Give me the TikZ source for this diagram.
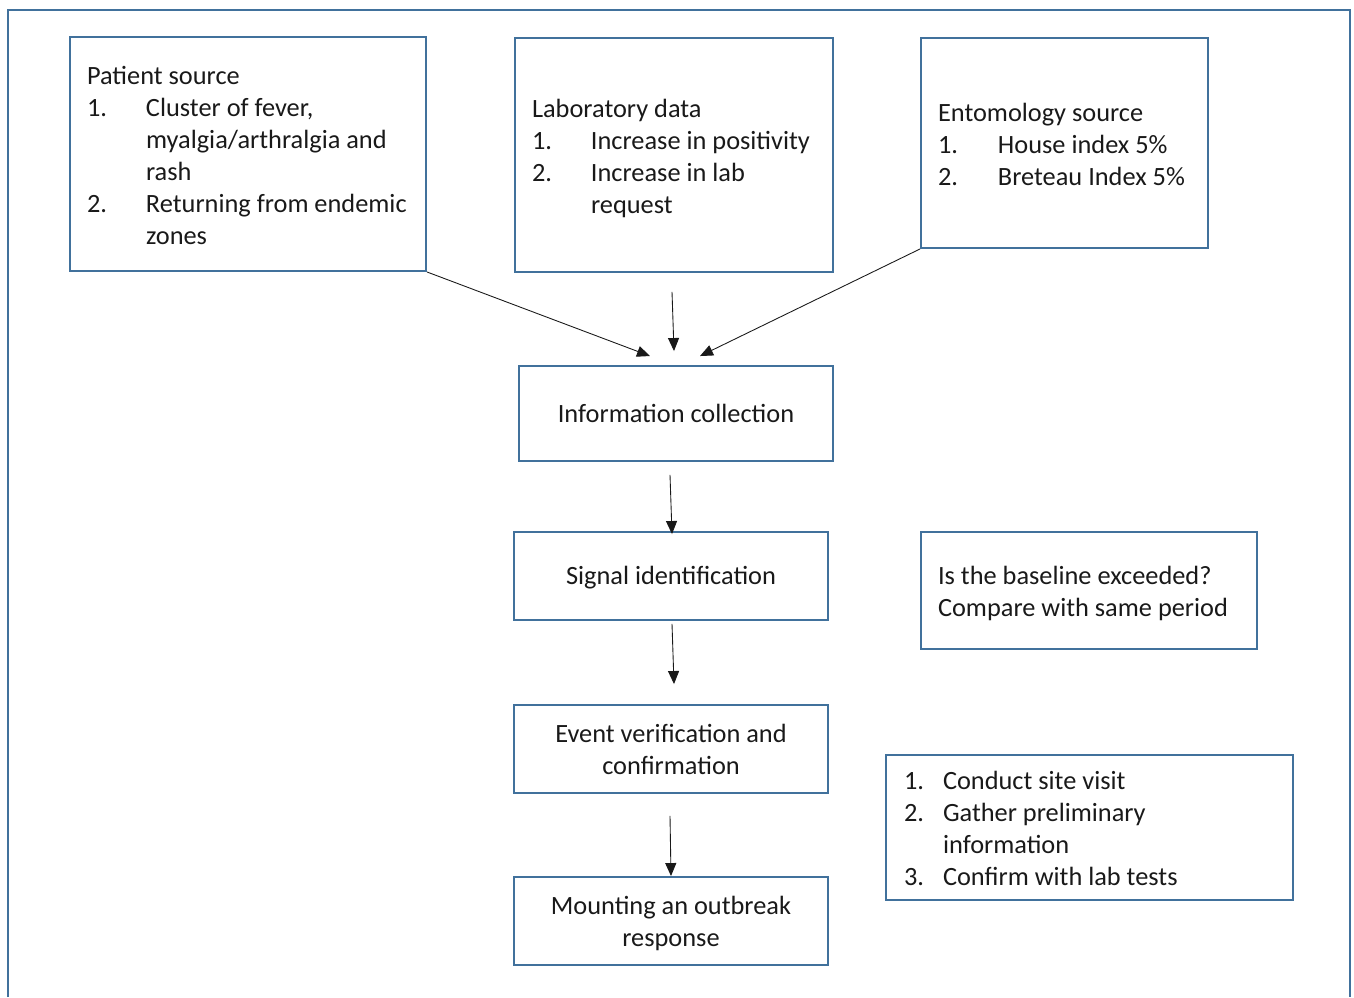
\documentclass[tikz,border=0pt]{standalone}
\usepackage{fontspec}
\setmainfont{Carlito}
\usepackage{array}
\usetikzlibrary{arrows.meta,positioning,calc}
\definecolor{boxblue}{RGB}{65,113,156}
\definecolor{ink}{RGB}{25,25,25}
\tikzstyle{arrow}=[draw,-{Triangle[length=0.26cm,width=0.22cm]},line width=0.5pt,ink]
\tikzstyle{tbox}=[rectangle,draw=boxblue,line width=1.1pt,inner sep=0pt,align=center,text=ink,font=\fontsize{15}{18.2}\selectfont]
\tikzstyle{lbox}=[rectangle,draw=boxblue,line width=1.1pt,inner sep=0pt,inner xsep=0.34cm,text=ink,font=\fontsize{15}{18.2}\selectfont,
  execute at begin node={\spaceskip=0pt\xspaceskip=0pt\relax}]

\begin{document}
\begin{tikzpicture}[x=0.02cm,y=-0.02cm]
\useasboundingbox (0,0) rectangle (1354,997);
% outer frame, open at the bottom
\draw[boxblue,line width=1.1pt] (8,997) -- (8,10) -- (1350,10) -- (1350,997);

% sources
\node [lbox,text width=6.44cm,minimum height=4.68cm] (pat) at (248,154) {%
\begin{tabular}{@{}p{1.18cm}@{}l@{}}\noalign{\vskip 0.16cm}
\multicolumn{2}{@{}l@{}}{Patient source}\\
1. & Cluster of fever,\\
   & myalgia/arthralgia and\\
   & rash\\
2. & Returning from endemic\\
   & zones
\end{tabular}};
\node [lbox,text width=5.68cm,minimum height=4.68cm] (lab) at (674,155) {%
\begin{tabular}{@{}p{1.18cm}@{}l@{}}\noalign{\vskip 0.16cm}
\multicolumn{2}{@{}l@{}}{Laboratory data}\\
1. & Increase in positivity\\
2. & Increase in lab\\
   & request
\end{tabular}};
\node [lbox,text width=5.06cm,minimum height=4.2cm] (ento) at (1064.5,143) {%
\begin{tabular}{@{}p{1.2cm}@{}l@{}}\noalign{\vskip 0.16cm}
\multicolumn{2}{@{}l@{}}{Entomology source}\\
1. & House index 5\%\\
2. & Breteau Index 5\%
\end{tabular}};

% main chain
\node [tbox,minimum width=6.28cm,minimum height=1.9cm] (info) at (676,413.5) {Information collection};
\node [tbox,minimum width=6.28cm,minimum height=1.76cm] (sig) at (671,576) {%
\begin{tabular}{@{}c@{}}\noalign{\vskip 0.1cm}Signal identification\end{tabular}};
\node [tbox,minimum width=6.28cm,minimum height=1.76cm] (evt) at (671,749) {Event verification and\\confirmation};
\node [tbox,minimum width=6.28cm,minimum height=1.76cm] (resp) at (671,921) {%
\begin{tabular}{@{}c@{}}\noalign{\vskip 0.14cm}Mounting an outbreak\\response\end{tabular}};

% side notes
\node [lbox,text width=6.04cm,minimum height=2.34cm] (base) at (1089,590.5) {%
\begin{tabular}{@{}l@{}}\noalign{\vskip 0.14cm}
Is the baseline exceeded?\\
Compare with same period
\end{tabular}};
\node [lbox,text width=7.42cm,minimum height=2.9cm,inner xsep=0.36cm] (conf) at (1089.5,827.5) {%
\begin{tabular}{@{}p{0.78cm}@{}l@{}}\noalign{\vskip 0.16cm}
1. & Conduct site visit\\
2. & Gather preliminary\\
   & information\\
3. & Confirm with lab tests
\end{tabular}};

\draw[arrow] (pat.south east) -- ($(info.north)+(-26,-9)$);
\draw[arrow] ($(lab.south)+(-2,19)$) -- ($(info.north)+(-2,-14)$);
\draw[arrow] (ento.south west) -- ($(info.north)+(24,-9)$);
\draw[arrow] ($(info.south)+(-6,13)$) -- ($(sig.north)+(1,3)$);
\draw[arrow] ($(sig.south)+(1,3)$) -- ($(evt.north)+(3,-20)$);
\draw[arrow] ($(evt.south)+(-1,22)$) -- (resp.north);
\end{tikzpicture}
\end{document}
